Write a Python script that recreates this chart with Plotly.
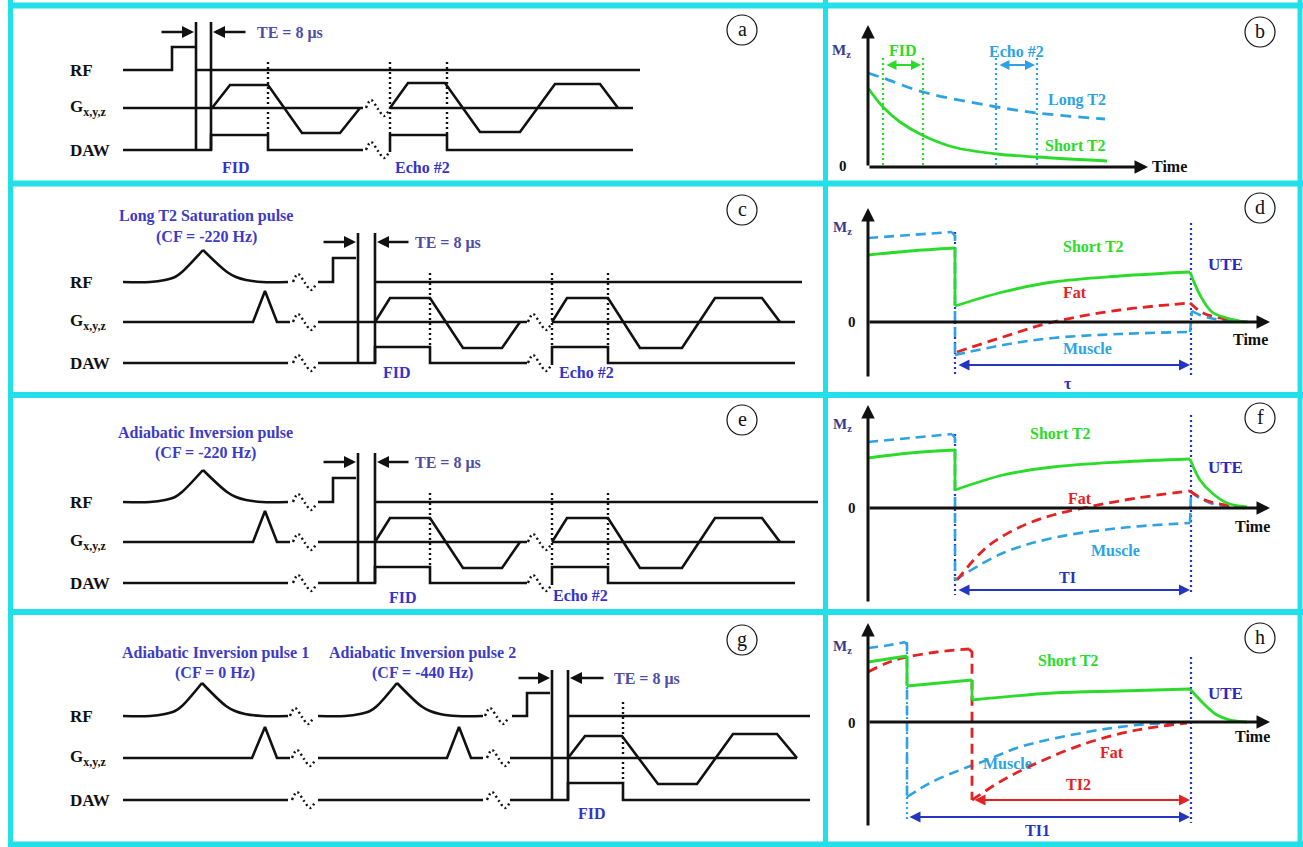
import plotly.graph_objects as go

W, H = 1303, 847
# panel frame of the original figure (pixels)
COL_EDGES = [0, 825.5, 1303]
ROW_EDGES = [0, 183.5, 395, 612, 847]
E_SHIFT = 220  # panel e re-uses the sequence of panel c, drawn lower

ROW_NAMES = ["RF", "G<sub>x,y,z</sub>", "DAW"]
TE_TEXT = "TE = 8 μs"
PANEL_TAGS = ["a", "b", "c", "d", "e", "f", "g", "h"]
TAG_X = [742, 1260, 742, 1260, 742, 1260, 742, 1260]
TAG_Y = [30, 32, 210, 208, 200, 418, 640, 638]

# break ("~") symbol template
BREAK_DX = [0, 5, 12, 18, 23]
BREAK_DY = [0, -8, 1, 8, 2]

# ---------------- panel a ----------------
A_ROWS_Y = [70, 108, 150]
A_RF_X = [123, 172, 172, 196, None, 196, 640]
A_RF_Y = [70, 70, 47, 47, None, 70, 70]
A_G_X = [123, 363, None, 212, 230, 268, 302, 340, 360, None, 390, 633, None,
         390, 408, 445, 480, 520, 555, 600, 618]
A_G_Y = [108, 108, None, 108, 85, 85, 133, 133, 108, None, 108, 108, None,
         108, 83, 83, 132, 132, 84, 84, 108]
A_DAW_X = [123, 211, 211, 268, 268, 363, None, 390, 390, 447, 447, 633]
A_DAW_Y = [150, 150, 135, 135, 150, 150, None, 152, 135, 135, 150, 150]
A_GATE_X = [196, 211]
A_GATE_Y = [22, 150]
A_DOT_X = [268, 390, 447]
A_DOT_Y = [62, 135]
A_TE = dict(y=32, l_tail=160, l_head=194, r_tail=247, r_head=213, tx=255)
A_BREAKS = [(366, 108), (366, 150)]
A_LABELS = [(236, 167, "FID"), (422, 167, "Echo #2")]

# ---------------- panel c (and e) ----------------
C_ROWS_Y = [282, 322, 363]
C_RF_X = [123, 150, 165, 175, 182, 203, None, 203, 227, 236, 246, 262, 288]
C_RF_Y = [282, 282, 280, 277, 272, 250, None, 250, 272, 277, 280, 282, 282]
C_RF2_X = [318, 333, 333, 356]
C_RF2_Y = [282, 282, 258, 258]
C_RF3_X = [375, 802]
E_RF3_X = [375, 818]
C_RF3_Y = [282, 282]
C_G_X = [123, 253, 265, 277, 290, None, 318, 527, None, 552, 795, None,
         375, 390, 430, 463, 502, 520, None,
         552, 567, 608, 640, 682, 715, 762, 780]
C_G_Y = [322, 322, 291, 322, 322, None, 322, 322, None, 322, 322, None,
         322, 298, 298, 348, 348, 322, None,
         322, 298, 298, 348, 348, 298, 298, 322]
C_DAW_X = [123, 288, None, 318, 375, 375, 430, 430, 527, None, 552, 552, 608, 608, 795]
C_DAW_Y = [363, 363, None, 363, 363, 347, 347, 363, 363, None, 365, 347, 347, 363, 363]
C_GATE_X = [358, 375]
C_GATE_Y = [233, 363]
C_DOT_X = [430, 552, 608]
C_DOT_Y = [273, 347]
C_TE = dict(y=242, l_tail=322, l_head=356, r_tail=410, r_head=377, tx=413)
C_BREAKS = [(293, 282), (293, 322), (293, 363), (528, 322), (528, 363)]
C_LABELS = [(397, 372, "FID"), (586, 372, "Echo #2")]
C_TITLES = [(206, 216, "Long T2 Saturation pulse"), (206, 237, "(CF = -220 Hz)")]
E_LABELS = [(403, 377, "FID"), (580, 375, "Echo #2")]
E_TITLES = [(205, 213, "Adiabatic Inversion pulse"), (205, 233, "(CF = -220 Hz)")]

# ---------------- panel g ----------------
G_ROWS_Y = [716, 758, 800]
G_RF_X = [123, 150, 165, 175, 182, 202, None, 202, 226, 235, 245, 262, 288, None,
          318, 345, 360, 370, 377, 397, None, 397, 421, 430, 440, 457, 483]
G_RF_Y = [716, 716, 714, 711, 706, 683, None, 683, 706, 711, 714, 716, 716, None,
          716, 716, 714, 711, 706, 683, None, 683, 706, 711, 714, 716, 716]
G_RF2_X = [512, 527, 527, 550]
G_RF2_Y = [716, 716, 693, 693]
G_RF3_X = [568, 810]
G_RF3_Y = [716, 716]
G_G_X = [123, 252, 265, 277, 290, None, 318, 447, 459, 471, 483, None, 510, 797, None,
         568, 585, 622, 658, 697, 733, 777, 797]
G_G_Y = [758, 758, 727, 758, 758, None, 758, 758, 727, 758, 758, None, 758, 758, None,
         758, 736, 736, 784, 784, 734, 734, 758]
G_DAW_X = [123, 288, None, 318, 483, None, 510, 568, 568, 623, 623, 810]
G_DAW_Y = [800, 800, None, 800, 800, None, 800, 800, 783, 783, 800, 800]
G_GATE_X = [552, 568]
G_GATE_Y = [670, 800]
G_DOT_X = [623]
G_DOT_Y = [702, 783]
G_TE = dict(y=678, l_tail=517, l_head=550, r_tail=605, r_head=570, tx=612)
G_BREAKS = [(290, 716), (485, 716), (292, 758), (487, 758), (292, 800), (487, 800)]
G_LABELS = [(592, 813, "FID")]
G_TITLES = [(215, 653, "Adiabatic Inversion pulse 1"), (215, 673, "(CF = 0 Hz)"),
            (422, 653, "Adiabatic Inversion pulse 2"), (422, 673, "(CF = -440 Hz)")]

# ---------------- panel b ----------------
B_AXIS = dict(x0=868, y0=167, ytip=25, xtip=1148)
B_LONG_X = [868, 883, 923, 997, 1037, 1105]
B_LONG_Y = [73, 78, 92, 107, 113, 119]
B_SHORT_X = [868, 883, 900, 922, 953, 997, 1037, 1107]
B_SHORT_Y = [88, 107, 122, 135, 147, 154, 157, 161]
B_FID_X = [883, 923]
B_ECHO_X = [996, 1037]
B_WIN_Y = [58, 167]
B_ARROW_Y = 65

# ---------------- panel d ----------------
D_AXIS = dict(x0=868, y0=322, ybot=378, ytip=208, xtip=1270)
D_MUS_SPL_X = [868, 910, 952, None, 955, 1003, 1053, 1120, 1190, None, 1192, 1200, 1215, 1235, 1250]
D_MUS_SPL_Y = [238, 235, 232, None, 355, 345, 338, 334, 332, None, 311, 315, 319, 321, 322]
D_MUS_LIN_X = [952, 955, 955, None, 1190, 1192]
D_MUS_LIN_Y = [232, 236, 355, None, 332, 311]
D_SHT_SPL_X = [868, 910, 955, None, 955, 1003, 1053, 1120, 1190, None, 1190, 1200, 1212, 1227, 1245]
D_SHT_SPL_Y = [255, 251, 248, None, 306, 292, 282, 276, 272, None, 272, 295, 312, 318, 322]
D_SHT_LIN_X = [955, 955]
D_SHT_LIN_Y = [248, 306]
D_FAT_SPL_X = [957, 1003, 1053, 1120, 1190, None, 1190, 1203, 1220, 1247]
D_FAT_SPL_Y = [352, 337, 322, 310, 303, None, 303, 313, 318, 322]
D_DOT = [(955, 232, 377), (1191, 223, 377)]
D_SPAN = (957, 1190, 365)

# ---------------- panel f ----------------
F_AXIS = dict(x0=868, y0=508, ybot=603, ytip=405, xtip=1270)
F_MUS_SPL_X = [868, 910, 952, None, 955, 1003, 1053, 1120, 1190, None, 1191, 1198, 1210, 1230, 1248]
F_MUS_SPL_Y = [442, 438, 434, None, 580, 553, 538, 528, 523, None, 492, 497, 503, 507, 508]
F_MUS_LIN_X = [952, 955, 955, None, 1190, 1191]
F_MUS_LIN_Y = [434, 438, 580, None, 523, 492]
F_SHT_SPL_X = [868, 910, 955, None, 955, 1003, 1053, 1120, 1190, None, 1190, 1200, 1212, 1227, 1247]
F_SHT_SPL_Y = [458, 453, 450, None, 490, 475, 467, 462, 459, None, 459, 480, 493, 503, 507]
F_SHT_LIN_X = [955, 955]
F_SHT_LIN_Y = [450, 490]
F_FAT_SPL_X = [957, 987, 1020, 1053, 1093, 1137, 1190, None, 1190, 1205, 1230, 1250]
F_FAT_SPL_Y = [580, 547, 527, 515, 506, 498, 491, None, 491, 500, 506, 508]
F_DOT = [(955, 434, 595), (1191, 415, 595)]
F_SPAN = (957, 1190, 590)

# ---------------- panel h ----------------
H_AXIS = dict(x0=868, y0=722, ybot=827, ytip=623, xtip=1270)
H_MUS_SPL_X = [868, 890, 905, None, 907, 930, 960, 987, 1020, 1087, 1137, 1190]
H_MUS_SPL_Y = [648, 645, 642, None, 797, 783, 770, 760, 747, 732, 725, 722]
H_MUS_LIN_X = [905, 907, 907]
H_MUS_LIN_Y = [642, 645, 797]
H_FAT_SPL_X = [868, 887, 907, 937, 969, None, 972, 1003, 1037, 1087, 1137, 1187]
H_FAT_SPL_Y = [672, 663, 657, 652, 649, None, 800, 780, 763, 743, 730, 723]
H_FAT_LIN_X = [969, 972, 972]
H_FAT_LIN_Y = [649, 652, 800]
H_SHT_SPL_X = [868, 907, None, 907, 972, None, 972, 1053, 1120, 1190, None, 1190, 1203, 1217, 1230, 1247]
H_SHT_SPL_Y = [662, 656, None, 686, 680, None, 700, 693, 691, 689, None, 689, 703, 715, 720, 722]
H_SHT_LIN_X = [907, 907, None, 972, 972]
H_SHT_LIN_Y = [656, 686, None, 680, 700]
H_DOT_BLUE = (907, 642, 820)
H_DOT_NAVY = (1191, 657, 823)
H_SPAN1 = (908, 1190, 817)
H_SPAN2 = (973, 1190, 800)

# ---------------- styles ----------------
SERIF = "Liberation Serif, Times New Roman, serif"
CYAN = "#22E0EA"
BLK = "#111111"
GREEN = "#2ADB2A"
BLUE = "#2EA3E3"
RED = "#E42222"
NAVY = "#2436C0"
TITLE_BLUE = "#3B3BC8"
TE_BLUE = "#4D4DA6"
MZ_BLUE = "#3A3A8C"
DASH = "10px,6px"

fig = go.Figure()
annotations = []


def ids(i):
    s = "" if i == 1 else str(i)
    return "x" + s, "y" + s


def line(i, xs, ys, color=BLK, width=2.6, dash="solid", shape="linear"):
    xa, ya = ids(i)
    fig.add_trace(go.Scatter(
        x=xs, y=ys, xaxis=xa, yaxis=ya, mode="lines",
        line=dict(color=color, width=width, dash=dash, shape=shape, smoothing=1.0),
        hoverinfo="skip", showlegend=False, connectgaps=False))


def vlines(i, xs, y0, y1, color=BLK, width=2.6, dash="solid"):
    X, Y = [], []
    for x in xs:
        X += [x, x, None]
        Y += [y0, y1, None]
    line(i, X, Y, color=color, width=width, dash=dash)


def breaks(i, pts):
    X, Y = [], []
    for (x0, y0) in pts:
        X += [x0 + d for d in BREAK_DX] + [None]
        Y += [y0 + d for d in BREAK_DY] + [None]
    line(i, X, Y, color=BLK, width=2.4, dash="2px,3px", shape="spline")


def text(i, x, y, s, color=BLK, size=16, bold=True, xanchor="center"):
    xa, ya = ids(i)
    annotations.append(dict(
        x=x, y=y, xref=xa, yref=ya, text=("<b>%s</b>" % s) if bold else s,
        showarrow=False, xanchor=xanchor, yanchor="middle",
        font=dict(family=SERIF, size=size, color=color)))


def arrow(i, xh, yh, xt, yt, color=BLK, width=2.2, both=False, head=2, size=1.0):
    xa, ya = ids(i)
    d = dict(x=xh, y=yh, ax=xt, ay=yt, xref=xa, yref=ya, axref=xa, ayref=ya,
             text="", showarrow=True, arrowhead=head, arrowsize=size,
             arrowwidth=width, arrowcolor=color, standoff=0, startstandoff=0)
    if both:
        d.update(arrowside="end+start", startarrowhead=head, startarrowsize=size)
    annotations.append(d)


def row_labels(i, ys):
    for name, y in zip(ROW_NAMES, ys):
        text(i, 68, y, name, color=BLK, size=17, xanchor="left")


def te(i, t):
    arrow(i, t["l_head"], t["y"], t["l_tail"], t["y"], width=2.4)
    arrow(i, t["r_head"], t["y"], t["r_tail"], t["y"], width=2.4)
    text(i, t["tx"], t["y"] + 1, TE_TEXT, color=TE_BLUE, size=16, xanchor="left")


def mz_axes(i, ax, ybot=None):
    yb = ax["y0"] if ybot is None else ybot
    arrow(i, ax["x0"], ax["ytip"], ax["x0"], yb, width=3, head=2, size=0.9)
    arrow(i, ax["xtip"], ax["y0"], ax["x0"], ax["y0"], width=3, head=2, size=0.9)


def curve(i, spl, lin, color, width, dash):
    if lin is not None:
        line(i, lin[0], lin[1], color=color, width=width, dash=dash)
    line(i, spl[0], spl[1], color=color, width=width, dash=dash, shape="spline")


# ===== panel a =====
row_labels(1, A_ROWS_Y)
line(1, A_RF_X, A_RF_Y)
line(1, A_G_X, A_G_Y)
line(1, A_DAW_X, A_DAW_Y)
vlines(1, A_GATE_X, *A_GATE_Y)
vlines(1, A_DOT_X, *A_DOT_Y, width=2.4, dash="2px,3px")
breaks(1, A_BREAKS)
te(1, A_TE)
for x, y, s in A_LABELS:
    text(1, x, y, s, color="#3333CC")

# ===== panels c and e =====
for i, labels, titles, rf3 in [(3, C_LABELS, C_TITLES, C_RF3_X), (5, E_LABELS, E_TITLES, E_RF3_X)]:
    row_labels(i, C_ROWS_Y)
    line(i, C_RF_X, C_RF_Y, shape="spline")
    line(i, C_RF2_X, C_RF2_Y)
    line(i, rf3, C_RF3_Y)
    line(i, C_G_X, C_G_Y)
    line(i, C_DAW_X, C_DAW_Y)
    vlines(i, C_GATE_X, *C_GATE_Y)
    vlines(i, C_DOT_X, *C_DOT_Y, width=2.4, dash="2px,3px")
    breaks(i, C_BREAKS)
    te(i, C_TE)
    for x, y, s in labels:
        text(i, x, y, s, color="#3333CC")
    for x, y, s in titles:
        text(i, x, y, s, color=TITLE_BLUE)

# ===== panel g =====
row_labels(7, G_ROWS_Y)
line(7, G_RF_X, G_RF_Y, shape="spline")
line(7, G_RF2_X, G_RF2_Y)
line(7, G_RF3_X, G_RF3_Y)
line(7, G_G_X, G_G_Y)
line(7, G_DAW_X, G_DAW_Y)
vlines(7, G_GATE_X, *G_GATE_Y)
vlines(7, G_DOT_X, *G_DOT_Y, width=2.4, dash="2px,3px")
breaks(7, G_BREAKS)
te(7, G_TE)
for x, y, s in G_LABELS:
    text(7, x, y, s, color="#3333CC")
for x, y, s in G_TITLES:
    text(7, x, y, s, color=TITLE_BLUE)

# ===== panel b =====
vlines(2, B_FID_X, *B_WIN_Y, color=GREEN, width=2.2, dash="2px,3px")
vlines(2, B_ECHO_X, *B_WIN_Y, color=BLUE, width=2.2, dash="2px,3px")
line(2, B_LONG_X, B_LONG_Y, color=BLUE, width=2.8, dash="11px,7px", shape="spline")
line(2, B_SHORT_X, B_SHORT_Y, color=GREEN, width=2.8, shape="spline")
mz_axes(2, B_AXIS)
arrow(2, B_FID_X[1] - 2, B_ARROW_Y, B_FID_X[0] + 2, B_ARROW_Y, color=GREEN, width=2, both=True)
arrow(2, B_ECHO_X[1] - 2, B_ARROW_Y, B_ECHO_X[0] + 2, B_ARROW_Y, color=BLUE, width=2, both=True)
text(2, 903, 50, "FID", color=GREEN)
text(2, 1017, 51, "Echo #2", color=BLUE)
text(2, 1077, 100, "Long T2", color=BLUE)
text(2, 1075, 145, "Short T2", color=GREEN)
text(2, 842, 51, "M<sub>z</sub>", color=MZ_BLUE, size=15)
text(2, 843, 166, "0", size=15)
text(2, 1169, 166, "Time", size=16)

# ===== panels d, f =====
for i, ax, mus, sht, fat, dots, span, labs in [
    (4, D_AXIS, ((D_MUS_SPL_X, D_MUS_SPL_Y), (D_MUS_LIN_X, D_MUS_LIN_Y)),
     ((D_SHT_SPL_X, D_SHT_SPL_Y), (D_SHT_LIN_X, D_SHT_LIN_Y)),
     ((D_FAT_SPL_X, D_FAT_SPL_Y), None), D_DOT, D_SPAN,
     dict(st=(1093, 247), fat=(1075, 292), mus=(1087, 348), ute=(1225, 264), span=(1068, 383, "τ"),
          mz=(843, 228), zero=(852, 322), time=(1250, 339))),
    (6, F_AXIS, ((F_MUS_SPL_X, F_MUS_SPL_Y), (F_MUS_LIN_X, F_MUS_LIN_Y)),
     ((F_SHT_SPL_X, F_SHT_SPL_Y), (F_SHT_LIN_X, F_SHT_LIN_Y)),
     ((F_FAT_SPL_X, F_FAT_SPL_Y), None), F_DOT, F_SPAN,
     dict(st=(1060, 433), fat=(1080, 498), mus=(1115, 550), ute=(1225, 467), span=(1067, 577, "TI"),
          mz=(843, 425), zero=(852, 508), time=(1252, 526))),
]:
    for (x, y0, y1) in dots:
        vlines(i, [x], y0, y1, color=NAVY, width=2.2, dash="2px,3px")
    curve(i, mus[0], mus[1], BLUE, 2.6, DASH)
    curve(i, fat[0], fat[1], RED, 2.8, DASH)
    curve(i, sht[0], sht[1], GREEN, 2.8, "solid")
    mz_axes(i, ax, ax["ybot"])
    arrow(i, span[1], span[2], span[0], span[2], color=NAVY, width=2.2, both=True)
    text(i, *labs["st"], "Short T2", color=GREEN)
    text(i, *labs["fat"], "Fat", color=RED)
    text(i, *labs["mus"], "Muscle", color=BLUE)
    text(i, *labs["ute"], "UTE", color="#2A2ABF", size=17)
    text(i, labs["span"][0], labs["span"][1], labs["span"][2], color=NAVY)
    text(i, *labs["mz"], "M<sub>z</sub>", color=MZ_BLUE, size=15)
    text(i, *labs["zero"], "0", size=15)
    text(i, *labs["time"], "Time", size=16)

# ===== panel h =====
vlines(8, [H_DOT_BLUE[0]], H_DOT_BLUE[1], H_DOT_BLUE[2], color=BLUE, width=2.2, dash="2px,3px")
vlines(8, [H_DOT_NAVY[0]], H_DOT_NAVY[1], H_DOT_NAVY[2], color=NAVY, width=2.2, dash="2px,3px")
curve(8, (H_MUS_SPL_X, H_MUS_SPL_Y), (H_MUS_LIN_X, H_MUS_LIN_Y), BLUE, 2.6, DASH)
curve(8, (H_FAT_SPL_X, H_FAT_SPL_Y), (H_FAT_LIN_X, H_FAT_LIN_Y), RED, 2.8, DASH)
curve(8, (H_SHT_SPL_X, H_SHT_SPL_Y), (H_SHT_LIN_X, H_SHT_LIN_Y), GREEN, 2.8, "solid")
mz_axes(8, H_AXIS, H_AXIS["ybot"])
arrow(8, H_SPAN1[1], H_SPAN1[2], H_SPAN1[0], H_SPAN1[2], color=NAVY, width=2.2, both=True)
arrow(8, H_SPAN2[1], H_SPAN2[2], H_SPAN2[0], H_SPAN2[2], color=RED, width=2.2, both=True)
text(8, 1068, 660, "Short T2", color=GREEN)
text(8, 1112, 752, "Fat", color=RED)
text(8, 1008, 763, "Muscle", color=BLUE)
text(8, 1225, 693, "UTE", color="#2A2ABF", size=17)
text(8, 1078, 784, "TI2", color=RED)
text(8, 1037, 830, "TI1", color=NAVY)
text(8, 843, 647, "M<sub>z</sub>", color=MZ_BLUE, size=15)
text(8, 852, 723, "0", size=15)
text(8, 1252, 736, "Time", size=16)

# ===== circled panel tags =====
for k, tag in enumerate(PANEL_TAGS):
    i = k + 1
    xa, ya = ids(i)
    fig.add_trace(go.Scatter(
        x=[TAG_X[k]], y=[TAG_Y[k]], xaxis=xa, yaxis=ya, mode="markers",
        marker=dict(symbol="circle-open", size=30, color=BLK, line=dict(width=1.2)),
        hoverinfo="skip", showlegend=False))
    text(i, TAG_X[k], TAG_Y[k] - 1, tag, size=20, bold=False)

# ===== axes / layout =====
layout = dict(width=W, height=H, margin=dict(l=0, r=0, t=0, b=0),
              paper_bgcolor="white", plot_bgcolor="white", showlegend=False,
              annotations=annotations)
for k in range(8):
    i = k + 1
    col, row = k % 2, k // 2
    x0, x1 = COL_EDGES[col], COL_EDGES[col + 1]
    y0, y1 = ROW_EDGES[row], ROW_EDGES[row + 1]
    shift = E_SHIFT if PANEL_TAGS[k] == "e" else 0
    s = "" if i == 1 else str(i)
    layout["xaxis" + s] = dict(domain=[x0 / W, x1 / W], range=[x0, x1], visible=False,
                               fixedrange=True, anchor="y" + s)
    layout["yaxis" + s] = dict(domain=[1 - y1 / H, 1 - y0 / H], range=[y1 - shift, y0 - shift],
                               visible=False, fixedrange=True, anchor="x" + s)

# cyan frame
shapes = []
for x in [10.5, 825.5, 1300]:
    shapes.append(dict(type="line", xref="paper", yref="paper", x0=x / W, x1=x / W,
                       y0=0, y1=1, line=dict(color=CYAN, width=5)))
for y in [5.5, 183.5, 395, 612, 844.5]:
    shapes.append(dict(type="line", xref="paper", yref="paper", x0=8 / W, x1=1303 / W,
                       y0=1 - y / H, y1=1 - y / H, line=dict(color=CYAN, width=6)))
layout["shapes"] = shapes

fig.update_layout(**layout)
fig.write_html("out.html", config={"displayModeBar": False},
               post_script="document.body.style.margin='0';")
